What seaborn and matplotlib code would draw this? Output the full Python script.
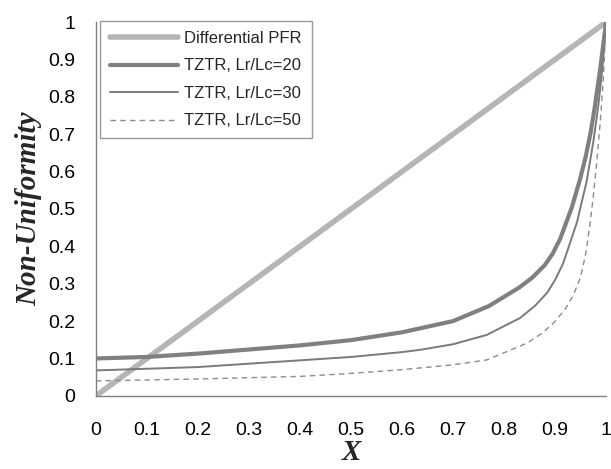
import numpy as np
import pandas as pd
import seaborn as sns
import matplotlib
matplotlib.use("Agg")
import matplotlib.pyplot as plt

# values
x_pfr = [0.0, 1.0]
y_pfr = [0.0, 1.0]

x_20 = [0, 0.1, 0.2, 0.3, 0.4, 0.5, 0.6, 0.7, 0.77, 0.83, 0.855, 0.88, 0.895, 0.91, 0.933, 0.949, 0.96, 0.969, 0.977, 0.988, 1.0]
y_20 = [0.100, 0.104, 0.113, 0.124, 0.135, 0.149, 0.170, 0.200, 0.240, 0.290, 0.316, 0.350, 0.380, 0.420, 0.505, 0.580, 0.640, 0.700, 0.765, 0.870, 1.0]

x_30 = [0, 0.2, 0.3, 0.4, 0.5, 0.6, 0.635, 0.7, 0.766, 0.831, 0.86, 0.884, 0.9, 0.916, 0.943, 0.962, 0.975, 0.985, 0.993, 1.0]
y_30 = [0.068, 0.077, 0.086, 0.095, 0.104, 0.117, 0.123, 0.138, 0.163, 0.208, 0.240, 0.275, 0.310, 0.355, 0.465, 0.575, 0.680, 0.780, 0.880, 1.0]

x_50 = [0, 0.2, 0.4, 0.5, 0.6, 0.7, 0.766, 0.845, 0.875, 0.897, 0.92, 0.936, 0.95, 0.96, 0.968, 0.975, 0.982, 0.989, 0.995, 1.0]
y_50 = [0.040, 0.045, 0.052, 0.060, 0.070, 0.083, 0.096, 0.141, 0.168, 0.195, 0.232, 0.270, 0.318, 0.380, 0.455, 0.535, 0.630, 0.740, 0.860, 1.0]

labels = ["Differential PFR", "TZTR, Lr/Lc=20", "TZTR, Lr/Lc=30", "TZTR, Lr/Lc=50"]
ticks = [0, 0.1, 0.2, 0.3, 0.4, 0.5, 0.6, 0.7, 0.8, 0.9, 1]
tick_labels = ["0", "0.1", "0.2", "0.3", "0.4", "0.5", "0.6", "0.7", "0.8", "0.9", "1"]

sns.set_style("white")
plt.rcParams["font.family"] = ["Liberation Sans", "DejaVu Sans"]

fig = plt.figure(figsize=(6.11, 4.69), dpi=100)
ax = fig.add_axes([0.157, 0.156, 0.835, 0.797])

sns.lineplot(x=x_pfr, y=y_pfr, ax=ax, color="#b5b5b5", linewidth=4, label=labels[0], sort=False)
sns.lineplot(x=x_20, y=y_20, ax=ax, color="#808080", linewidth=3, label=labels[1], sort=False)
sns.lineplot(x=x_30, y=y_30, ax=ax, color="#7a7a7a", linewidth=1.4, label=labels[2], sort=False)
sns.lineplot(x=x_50, y=y_50, ax=ax, color="#8c8c8c", linewidth=1.0, label=labels[3], sort=False,
             linestyle=(0, (4, 3)))

ax.set_xlim(0, 1)
ax.set_ylim(0, 1)
ax.set_xticks(ticks)
ax.set_xticklabels(tick_labels)
ax.set_yticks(ticks)
ax.set_yticklabels(tick_labels)
ax.tick_params(axis="both", direction="out", length=7, width=1, color="#808080",
               labelsize=14, labelcolor="black")
ax.tick_params(axis="x", pad=12)
ax.tick_params(axis="y", pad=8)

for side in ["top", "right"]:
    ax.spines[side].set_visible(False)
for side in ["left", "bottom"]:
    ax.spines[side].set_color("#808080")
    ax.spines[side].set_linewidth(1)

ax.set_xlabel("X", family="Liberation Serif", style="italic", weight="bold", fontsize=21, labelpad=0)
ax.set_ylabel("Non-Uniformity", family="Liberation Serif", style="italic", weight="bold", fontsize=21, labelpad=4)

leg = ax.legend(loc="upper left", bbox_to_anchor=(0.008, 1.003), frameon=True, fancybox=False,
                fontsize=12, handlelength=4.1, handletextpad=0.36, borderpad=0.6,
                labelspacing=0.75, borderaxespad=0.0)
leg.get_frame().set_edgecolor("#808080")
leg.get_frame().set_linewidth(1)

fig.savefig("out.png", dpi=100)
